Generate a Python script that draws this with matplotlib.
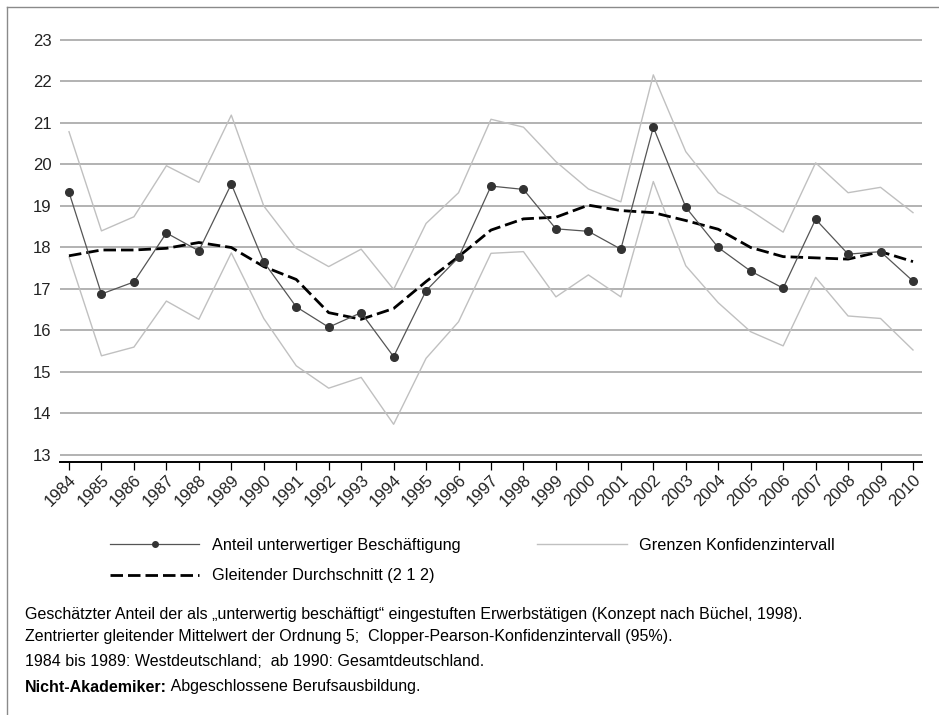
import numpy as np
import matplotlib.pyplot as plt
from matplotlib.lines import Line2D

plt.rcParams['font.family'] = ['Liberation Sans', 'DejaVu Sans']

# data
years = list(range(1984, 2011))
anteil = [19.33, 16.88, 17.17, 18.35, 17.92, 19.53, 17.65, 16.57, 16.08, 16.43,
          15.37, 16.96, 17.76, 19.48, 19.40, 18.45, 18.39, 17.96, 20.90, 18.97,
          18.00, 17.43, 17.02, 18.68, 17.84, 17.90, 17.19]
gleitend = [17.80, 17.94, 17.94, 17.98, 18.12, 18.00, 17.54, 17.23, 16.43, 16.27,
            16.53, 17.18, 17.78, 18.42, 18.69, 18.73, 19.02, 18.89, 18.84, 18.65,
            18.44, 18.00, 17.78, 17.75, 17.72, 17.90, 17.66]
ki_oben = [20.79, 18.40, 18.74, 19.97, 19.57, 21.19, 19.00, 17.98, 17.54, 17.96,
           16.99, 18.58, 19.32, 21.09, 20.90, 20.07, 19.41, 19.10, 22.16, 20.31,
           19.32, 18.89, 18.37, 20.04, 19.32, 19.45, 18.84]
ki_unten = [17.78, 15.39, 15.60, 16.71, 16.27, 17.87, 16.29, 15.15, 14.61, 14.87,
            13.74, 15.33, 16.21, 17.86, 17.90, 16.81, 17.34, 16.81, 19.59, 17.56,
            16.67, 15.97, 15.63, 17.28, 16.35, 16.29, 15.53]
yticks = list(range(13, 24))

W, H = 939, 715
fig = plt.figure(figsize=(W / 100, H / 100), dpi=100)
ax = fig.add_axes([60 / W, 1 - 462 / H, 862 / W, 424 / H])

# grid
for v in yticks:
    ax.axhline(v, color='#a6a6a6', lw=1.2, zorder=0)

ax.plot(years, ki_oben, color='#c0c0c0', lw=1.0, zorder=1)
ax.plot(years, ki_unten, color='#c0c0c0', lw=1.0, zorder=1)
ax.plot(years, anteil, color='#555555', lw=0.9, marker='o', ms=5.5,
        mfc='#333333', mec='#333333', zorder=3)
ax.plot(years, gleitend, color='black', lw=2.0, dashes=(4.5, 1.8), zorder=2)

ax.set_xlim(1984 - 9 / 32.46, 2010 + 9 / 32.46)
ax.set_ylim(13 - 7 / 41.5, 23 + 2 / 41.5)

for s in ['top', 'right', 'left']:
    ax.spines[s].set_visible(False)
ax.spines['bottom'].set_linewidth(1.4)
ax.spines['bottom'].set_color('black')

ax.set_yticks(yticks)
ax.set_yticklabels([str(v) for v in yticks], fontsize=12, color='#222222')
ax.tick_params(axis='y', length=0, pad=6)
ax.set_xticks(years)
ax.set_xticklabels([str(y) for y in years], fontsize=12, rotation=45,
                   ha='right', va='top', rotation_mode='anchor', color='#222222')
ax.tick_params(axis='x', length=5.5, width=0.9, pad=2)

# legend
h_main = Line2D([], [], color='#555555', lw=0.9, marker='o', ms=4,
                mfc='#333333', mec='#333333')
h_ma = Line2D([], [], color='black', lw=2.0, dashes=(4.5, 1.8))
h_ki = Line2D([], [], color='#c0c0c0', lw=1.0)
fig.legend([h_main, h_ma, h_ki],
           ['Anteil unterwertiger Beschäftigung', 'Gleitender Durchschnitt (2 1 2)',
            'Grenzen Konfidenzintervall'],
           ncol=2, loc='upper left', bbox_to_anchor=(110 / W, 1 - 538 / H),
           frameon=False, fontsize=11.7, handlelength=5.5, handletextpad=0.75,
           columnspacing=4.75, labelspacing=0.95, borderpad=0, borderaxespad=0)

# footnotes
fs = 11.5
fig.text(25 / W, 1 - 615 / H,
         'Geschätzter Anteil der als „unterwertig beschäftigt“ eingestuften '
         'Erwerbstätigen (Konzept nach Büchel, 1998).', fontsize=fs, va='center')
fig.text(25 / W, 1 - 637 / H,
         'Zentrierter gleitender Mittelwert der Ordnung 5;  '
         'Clopper-Pearson-Konfidenzintervall (95%).', fontsize=fs, va='center')
fig.text(25 / W, 1 - 662 / H,
         '1984 bis 1989: Westdeutschland;  ab 1990: Gesamtdeutschland.',
         fontsize=fs, va='center')
t_bold = fig.text(25 / W, 1 - 687 / H, 'Nicht-Akademiker:', fontsize=fs,
                  fontweight='bold', va='center')
ax.annotate(' Abgeschlossene Berufsausbildung.', xy=(1, 0.5), xycoords=t_bold,
            va='center', ha='left', fontsize=fs, annotation_clip=False)

# outer frame (top and left edges)
fig.add_artist(Line2D([7 / W, 7 / W], [0, 1 - 7 / H], color='#8a8a8a', lw=1.0,
                      transform=fig.transFigure))
fig.add_artist(Line2D([7 / W, 1], [1 - 7 / H, 1 - 7 / H], color='#8a8a8a', lw=1.0,
                      transform=fig.transFigure))

fig.savefig('out.png', dpi=100)
